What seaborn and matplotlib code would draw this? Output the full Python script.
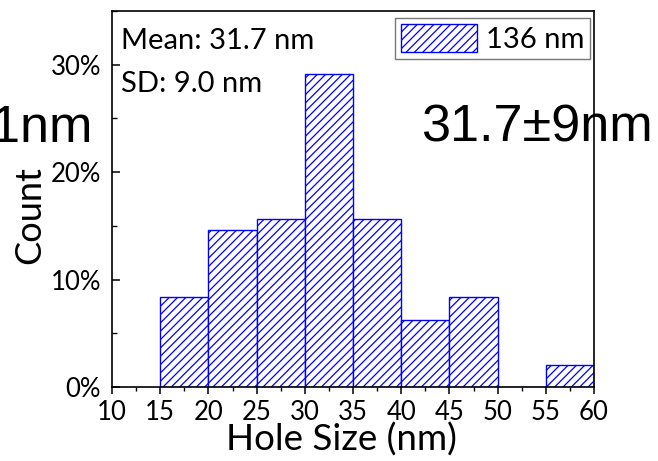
import numpy as np
import pandas as pd
import matplotlib
matplotlib.use("Agg")
import matplotlib.pyplot as plt
import seaborn as sns
from matplotlib.ticker import MultipleLocator, FuncFormatter

# ---- data ----
bin_edges = [15, 20, 25, 30, 35, 40, 45, 50, 55, 60]
bin_centers = [17.5, 22.5, 27.5, 32.5, 37.5, 42.5, 47.5, 52.5, 57.5]
counts = [8, 14, 15, 28, 15, 6, 8, 0, 2]
legend_label = "136 nm"
mean_text = "Mean: 31.7 nm"
sd_text = "SD: 9.0 nm"
big_right = "31.7±9nm"
big_left = "1nm"
xlabel = "Hole Size (nm)"
ylabel = "Count"

sns.set_style("white")
plt.rcParams['font.family'] = ['Lato', 'DejaVu Sans']
plt.rcParams['text.color'] = 'black'
plt.rcParams['axes.labelcolor'] = 'black'
plt.rcParams['xtick.color'] = 'black'
plt.rcParams['ytick.color'] = 'black'
plt.rcParams['hatch.color'] = '#0000ff'
plt.rcParams['hatch.linewidth'] = 0.9

df = pd.DataFrame({"size": bin_centers, "n": counts})

fig = plt.figure(figsize=(6.58, 4.61), dpi=100)
ax = fig.add_axes([112/658, 1-387/461, (594-112)/658, (387-11)/461])

sns.histplot(data=df, x="size", weights="n", bins=bin_edges, stat="percent",
             ax=ax, facecolor="white", edgecolor="#0000ff", linewidth=1.0,
             hatch="////", label=legend_label)

ax.set_xlim(10, 60)
ax.set_ylim(0, 35)
ax.xaxis.set_major_locator(MultipleLocator(5))
ax.xaxis.set_minor_locator(MultipleLocator(2.5))
ax.yaxis.set_major_locator(MultipleLocator(10))
ax.yaxis.set_minor_locator(MultipleLocator(5))
ax.yaxis.set_major_formatter(FuncFormatter(lambda v, p: f"{v:.0f}%"))

for s in ax.spines.values():
    s.set_linewidth(1.2)
    s.set_color("black")

ax.tick_params(axis='x', which='major', direction='out', length=5, width=1.1,
               labelsize=18.5, pad=4, bottom=True, top=False)
ax.tick_params(axis='x', which='minor', direction='out', length=3, width=1.0,
               bottom=True, top=False)
ax.tick_params(axis='y', which='major', direction='in', length=6, width=1.1,
               labelsize=18.5, pad=8, left=True, right=False)
ax.tick_params(axis='y', which='minor', direction='in', length=3.5, width=1.0,
               left=True, right=False)

ax.set_xlabel(xlabel, fontsize=26.5)
ax.set_ylabel(ylabel, fontsize=26)
ax.xaxis.set_label_coords(0.475, -0.095)
ax.yaxis.set_label_coords(-0.136, 0.457)

ax.text(0.0187, 0.899, mean_text, transform=ax.transAxes, fontsize=21,
        ha='left', va='baseline')
ax.text(0.0187, 0.785, sd_text, transform=ax.transAxes, fontsize=21,
        ha='left', va='baseline')
ax.text(0.641, 0.652, big_right, transform=ax.transAxes, fontsize=37.5,
        family=['Liberation Sans', 'DejaVu Sans'], ha='left', va='baseline',
        clip_on=False)
ax.text(-0.0415, 0.652, big_left, transform=ax.transAxes, fontsize=37.5,
        family=['Liberation Sans', 'DejaVu Sans'], ha='right', va='baseline',
        clip_on=False)

leg = ax.legend(loc='upper right', bbox_to_anchor=(0.9917, 0.981),
                borderaxespad=0, fontsize=21, frameon=True, fancybox=False,
                handlelength=2.6, handleheight=1.1, handletextpad=0.3,
                borderpad=0.2)
leg.get_frame().set_edgecolor('#555555')
leg.get_frame().set_linewidth(1.0)

fig.savefig("out.png", dpi=100)
